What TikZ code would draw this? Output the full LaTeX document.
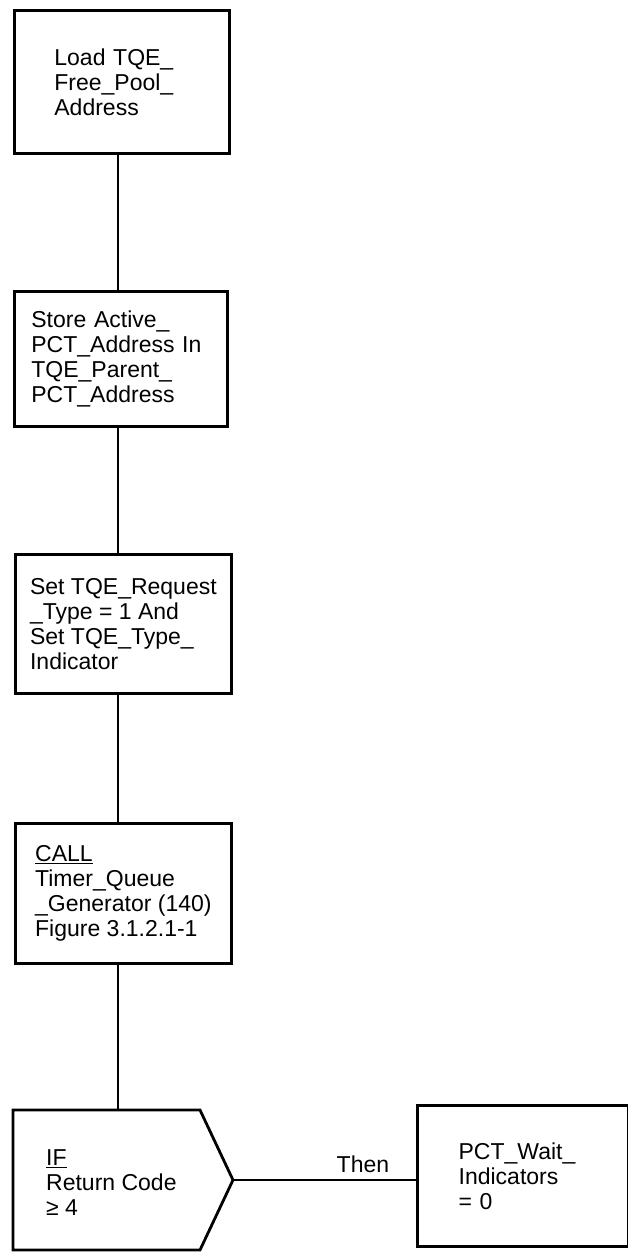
\documentclass[tikz,border=0pt]{standalone}
\usepackage{fontspec}
\setmainfont{Liberation Sans}
\begin{document}
\begin{tikzpicture}[x=1pt,y=1pt]
\tikzset{
  txt/.style={font=\fontsize{23}{25}\selectfont},
  procbox/.style={draw, line width=2.8pt, anchor=north west, align=left, inner sep=0pt, txt},
  conn/.style={line width=1.6pt},
  shapeline/.style={line width=2.8pt, line join=miter},
}
\useasboundingbox (0,0) rectangle (628,-1252);
\coordinate (spine) at (118,0);

\node[procbox, minimum width=215pt, minimum height=143pt, text width=135pt] (b1) at (13,-9)
  {Load TQE\_\\Free\_Pool\_\\Address};
\node[procbox, minimum width=213pt, minimum height=135pt, text width=179pt] (b2) at (13,-290)
  {Store Active\_\\PCT\_Address In\\TQE\_Parent\_\\PCT\_Address};
\node[procbox, minimum width=216pt, minimum height=139pt] (b3) at (14,-553)
  {Set TQE\_Request\\\_Type = 1 And\\Set TQE\_Type\_\\Indicator};
\node[procbox, minimum width=216pt, minimum height=140pt] (b4) at (14,-822)
  {\underline{CALL}\\Timer\_Queue\\\_Generator (140)\\Figure 3.1.2.1-1};

% decision shape
\coordinate (ifnw) at (13,-1110);
\coordinate (ifne) at (200,-1110);
\coordinate (iftip) at (233,-1180);
\coordinate (ifse) at (200,-1250);
\coordinate (ifsw) at (13,-1250);
\draw[shapeline] (ifnw) -- (ifne) -- (iftip) -- (ifse) -- (ifsw) -- cycle;
\node[txt, align=left, anchor=west, inner sep=0pt] (iftext) at (46,-1183)
  {\underline{IF}\\Return Code\\≥ 4};

\node[procbox, minimum width=210.5pt, minimum height=141pt, text width=128pt] (pct) at (416,-1104)
  {PCT\_Wait\_\\Indicators\\= 0};

\draw[conn] (b1.south -| spine) -- (b2.north -| spine);
\draw[conn] (b2.south -| spine) -- (b3.north -| spine);
\draw[conn] (b3.south -| spine) -- (b4.north -| spine);
\draw[conn] (b4.south -| spine) -- (ifnw -| spine);
\draw[conn] (iftip) -- node[txt, pos=0.71, anchor=base, yshift=8pt, inner sep=0pt] (thenlbl) {Then} (pct.west |- iftip);
\end{tikzpicture}
\end{document}
